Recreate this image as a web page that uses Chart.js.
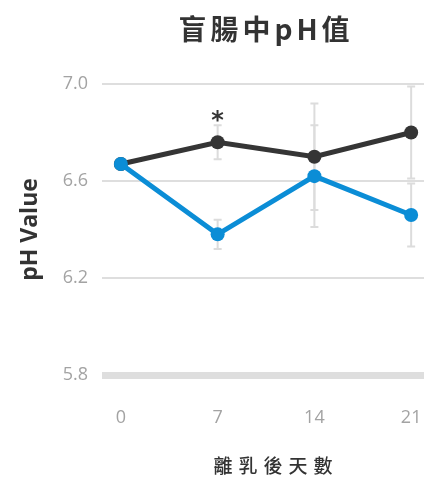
<!DOCTYPE html>
<html>
<head>
<meta charset="utf-8">
<script src="https://cdn.jsdelivr.net/npm/chart.js@4"></script>
<style>
    html, body { margin: 0; padding: 0; background: #fff; overflow: hidden; }
    #wrap { width: 440px; height: 478px; }
</style>
</head>
<body>
<div id="wrap"><canvas id="ph-chart" width="440" height="478"></canvas></div>
<script>
    // values
    const days = [0, 7, 14, 21];
    const blueValues = [6.67, 6.38, 6.62, 6.46];
    const blueErrors = [0, 0.06, 0.21, 0.13];
    const blackValues = [6.67, 6.76, 6.70, 6.80];
    const blackErrors = [0, 0.07, 0.22, 0.19];
    const yTicks = [5.8, 6.2, 6.6, 7.0];
    const titleText = '盲腸中pH值';
    const xTitleText = '離乳後天數';
    const yTitleText = 'pH Value';

    const blue = '#0b8dd6';
    const black = '#353535';
    const cjk = '"Noto Sans CJK TC", "Noto Sans CJK SC", sans-serif';

    const toPoints = (values) => days.map((d, i) => ({x: d, y: values[i]}));

    // error bars drawn under the lines
    const errorBars = {
        id: 'errorBars',
        beforeDatasetsDraw(chart) {
            const ctx = chart.ctx;
            const xs = chart.scales.x, ys = chart.scales.y;
            ctx.save();
            ctx.strokeStyle = '#dcdcdc';
            ctx.lineWidth = 2;
            [[blackValues, blackErrors], [blueValues, blueErrors]].forEach(([vals, errs]) => {
                vals.forEach((v, i) => {
                    if (!errs[i]) return;
                    const x = xs.getPixelForValue(days[i]);
                    const top = ys.getPixelForValue(v + errs[i]);
                    const bottom = ys.getPixelForValue(v - errs[i]);
                    ctx.beginPath();
                    ctx.moveTo(x, top);
                    ctx.lineTo(x, bottom);
                    ctx.moveTo(x - 4, top);
                    ctx.lineTo(x + 4, top);
                    ctx.moveTo(x - 4, bottom);
                    ctx.lineTo(x + 4, bottom);
                    ctx.stroke();
                });
            });
            ctx.restore();
        },
        afterDraw(chart) {
            const ctx = chart.ctx;
            const xs = chart.scales.x, ys = chart.scales.y;
            ctx.save();
            // significance mark over day 7
            ctx.fillStyle = black;
            ctx.font = 'bold 24px "DejaVu Sans", sans-serif';
            ctx.textAlign = 'center';
            ctx.textBaseline = 'middle';
            ctx.fillText('*', xs.getPixelForValue(7), ys.getPixelForValue(blackValues[1] + blackErrors[1]) - 3);

            // title
            ctx.font = 'bold 28px ' + cjk;
            ctx.letterSpacing = '4px';
            ctx.fillStyle = '#333';
            ctx.fillText(titleText, 266, 29);

            // x axis title
            ctx.font = '500 19px ' + cjk;
            ctx.letterSpacing = '6px';
            ctx.fillText(xTitleText, 276, 466);
            ctx.restore();
        }
    };

    new Chart(document.getElementById('ph-chart').getContext('2d'), {
        type: 'line',
        data: {
            datasets: [
                {
                    data: toPoints(blueValues),
                    borderColor: blue,
                    backgroundColor: blue,
                    borderWidth: 5,
                    pointRadius: 7,
                    pointBorderWidth: 0,
                    tension: 0
                },
                {
                    data: toPoints(blackValues),
                    borderColor: black,
                    backgroundColor: black,
                    borderWidth: 5,
                    pointRadius: 7,
                    pointBorderWidth: 0,
                    tension: 0
                }
            ]
        },
        options: {
            responsive: false,
            animation: false,
            layout: {padding: {top: 84, left: 17, right: 0, bottom: 0}},
            plugins: {
                legend: {display: false},
                tooltip: {enabled: false},
                title: {display: false}
            },
            scales: {
                x: {
                    type: 'linear',
                    min: -1.366,
                    max: 22.58,
                    afterBuildTicks: (scale) => { scale.ticks = days.map(v => ({value: v})); },
                    afterFit: (scale) => {
                        scale.height = 103;
                        scale.paddingLeft = 0;
                        scale.paddingRight = 0;
                    },
                    grid: {display: false},
                    border: {display: false},
                    ticks: {
                        padding: 24,
                        color: '#a3a3a3',
                        font: {family: '"Open Sans", sans-serif', size: 18}
                    }
                },
                y: {
                    min: 5.8,
                    max: 7.0,
                    afterBuildTicks: (scale) => { scale.ticks = yTicks.map(v => ({value: v})); },
                    afterFit: (scale) => { scale.width = 85; },
                    grid: {
                        color: '#dedede',
                        lineWidth: (c) => (c.tick && c.tick.value === 5.8 ? 7 : 2),
                        drawTicks: false
                    },
                    border: {display: false},
                    ticks: {
                        padding: 14,
                        color: '#a3a3a3',
                        font: {family: '"Open Sans", sans-serif', size: 18},
                        callback: (v) => Number(v).toFixed(1)
                    },
                    title: {
                        display: true,
                        text: yTitleText,
                        color: '#333',
                        font: {family: '"Open Sans", sans-serif', size: 23, weight: 'bold'},
                        padding: {top: 0, bottom: 0}
                    }
                }
            }
        },
        plugins: [errorBars]
    });
</script>
</body>
</html>
